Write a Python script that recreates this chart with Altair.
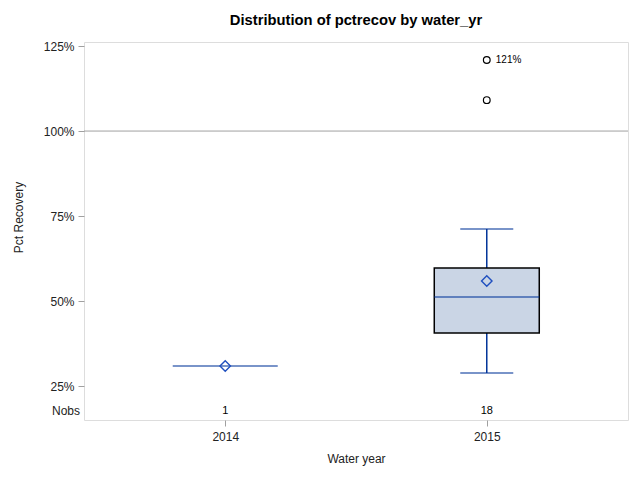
import altair as alt
import pandas as pd

years = ["2014", "2015"]
q1 = [30.9, 40.6]
q3 = [30.9, 59.7]
median = [30.9, 51.2]
mean = [30.9, 55.9]
whisk_lo = [30.9, 28.8]
whisk_hi = [30.9, 71.2]
nobs = [1, 18]
out_year = ["2015", "2015"]
out_val = [120.9, 109.1]
out_label = ["121%", ""]

FONT = "Liberation Sans"
BLUE = "#003399"
MEANBLUE = "#1F4FBF"
GRAY = "#A0A0A0"

stats = pd.DataFrame({"water_yr": years, "q1": q1, "q3": q3, "median": median,
                      "mean": mean, "lo": whisk_lo, "hi": whisk_hi, "nobs": nobs})
box = stats[stats["water_yr"] == "2015"]
outl = pd.DataFrame({"water_yr": out_year, "v": out_val, "lab": out_label})

ydom = [15, 126.2]
xenc = alt.X("water_yr:O", scale=alt.Scale(type="point", padding=0.54, domain=years),
             axis=alt.Axis(title="Water year", labelAngle=0, domain=False, tickColor=GRAY,
                           tickSize=6, labelFontSize=12, titleFontSize=12, titleFontWeight="normal",
                           labelPadding=5, titlePadding=11, labelColor="#222", titleColor="#222"))
yscale = alt.Scale(domain=ydom, nice=False, zero=False)
yaxis = alt.Axis(title="Pct Recovery", values=[25, 50, 75, 100, 125], labelExpr="datum.value + '%'",
                 grid=False, domain=False, tickColor=GRAY, tickSize=6, labelFontSize=12,
                 titleFontSize=12, titleFontWeight="normal", labelPadding=4, titlePadding=18,
                 titleY=175, labelColor="#222", titleColor="#222")

ref = alt.Chart(pd.DataFrame({"r": [100]})).mark_rule(color=GRAY, strokeWidth=1).encode(
    y=alt.Y("r:Q", scale=yscale, axis=yaxis))

whisk_low = alt.Chart(box).mark_rule(color=BLUE, strokeWidth=1.5).encode(
    x=xenc, y=alt.Y("lo:Q", scale=yscale), y2="q1:Q")
whisk_high = alt.Chart(box).mark_rule(color=BLUE, strokeWidth=1.5).encode(
    x=xenc, y=alt.Y("q3:Q", scale=yscale), y2="hi:Q")
cap_lo = alt.Chart(box).mark_tick(color=BLUE, size=53, thickness=1.5).encode(
    x=xenc, y=alt.Y("lo:Q", scale=yscale))
cap_hi = alt.Chart(box).mark_tick(color=BLUE, size=53, thickness=1.5).encode(
    x=xenc, y=alt.Y("hi:Q", scale=yscale))
rect = alt.Chart(box).mark_bar(size=105, fill="#CAD5E5", stroke="#000", strokeWidth=1.5).encode(
    x=xenc, y=alt.Y("q1:Q", scale=yscale), y2="q3:Q")
med = alt.Chart(stats).mark_tick(color=BLUE, size=105, thickness=1.5).encode(
    x=xenc, y=alt.Y("median:Q", scale=yscale))
mn = alt.Chart(stats).mark_point(shape="diamond", size=110, filled=False, color=MEANBLUE,
                                 strokeWidth=1.4, opacity=1).encode(
    x=xenc, y=alt.Y("mean:Q", scale=yscale))
outs = alt.Chart(outl).mark_point(shape="circle", size=45, filled=False, color="#000",
                                  strokeWidth=1.2, opacity=1).encode(
    x=xenc, y=alt.Y("v:Q", scale=yscale))
outlab = alt.Chart(outl).mark_text(align="left", dx=9, fontSize=10, font=FONT, color="#000").encode(
    x=xenc, y=alt.Y("v:Q", scale=yscale), text="lab:N")
ntext = alt.Chart(stats).mark_text(fontSize=11, font=FONT, color="#000", baseline="middle").encode(
    x=xenc, y=alt.value(369), text="nobs:Q")
nlab = alt.Chart(pd.DataFrame({"t": ["Nobs"]})).mark_text(
    fontSize=12, font=FONT, color="#222", align="right", baseline="middle").encode(
    x=alt.value(-4), y=alt.value(369), text="t:N")

chart = alt.layer(ref, whisk_low, whisk_high, cap_lo, cap_hi, rect, med, mn, outs, outlab,
                  ntext, nlab).properties(
    width=544, height=378,
    title=alt.TitleParams("Distribution of pctrecov by water_yr", fontSize=14.75, fontWeight="bold",
                          font=FONT, color="#000", anchor="middle", offset=12),
    autosize=alt.AutoSizeParams(type="none"),
    padding={"left": 76, "top": 34, "right": 4, "bottom": 52},
).configure_view(stroke=GRAY, strokeWidth=1).configure(font=FONT)

chart.save("out.html", embed_options={"renderer": "svg", "actions": False})
